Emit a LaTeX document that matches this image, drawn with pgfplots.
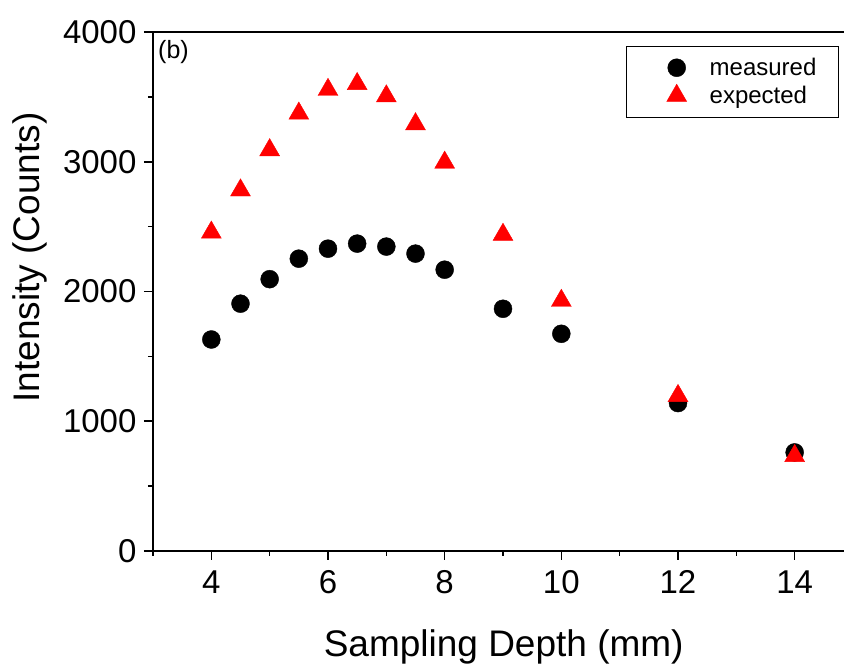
\documentclass[border=0pt]{standalone}
\usepackage{pgfplots}
\pgfplotsset{compat=1.18}
\usepackage{fontspec}
\setmainfont{Liberation Sans}
\pgfplotsset{myleg/.style={legend image code/.code={\path[draw=none,fill=none] (0pt,0pt) -- (30pt,0pt); \draw[##1] plot coordinates {(30pt,0pt)};}}}
\begin{document}
\begin{tikzpicture}
\begin{axis}[name=ax, scale only axis, width=700pt, height=519pt,
 xmin=3, xmax=15, ymin=0, ymax=4000,
 xtick={4,6,8,10,12,14}, minor xtick={3,5,7,9,11,13,15},
 ytick={0,1000,2000,3000,4000}, minor ytick={500,1500,2500,3500},
 tick pos=left, tick align=outside,
 major tick length=9pt, minor tick length=5pt,
 every tick/.style={black, line width=1.6pt},
 axis line style={line width=1.8pt},
 /pgf/number format/assume math mode=true,
 /pgf/number format/1000 sep={},
 tick label style={font=\fontsize{33}{40}\selectfont},
 yticklabel style={xshift=-4pt},
 xticklabel style={yshift=-7pt},
 xlabel={Sampling Depth (mm)}, ylabel={Intensity (Counts)},
 label style={font=\fontsize{37}{44}\selectfont},
 xlabel style={at={(axis description cs:0.501,-0.185)}, anchor=center},
 ylabel style={at={(axis description cs:-0.1757,0.5655)}, anchor=center},
 legend cell align=left,
 legend style={at={(axis description cs:0.98,0.9736)}, anchor=north east,
   draw=black, line width=1.2pt, inner xsep=20pt, inner ysep=10pt,
   font=\fontsize{24}{29}\selectfont, nodes={inner sep=2pt},
   row sep=5pt, column sep=21pt},
]
\addplot[only marks, mark=*, mark size=9pt, black, mark options={solid, line width=0.4pt}, myleg] coordinates {
(4,1630)(4.5,1906)(5,2095)(5.5,2253)(6,2330)(6.5,2369)(7,2346)(7.5,2292)(8,2168)(9,1867)(10,1674)(12,1140)(14,760)
};
\addlegendentry{measured}
\addplot[only marks, mark=triangle*, mark size=11.5pt, red, mark options={solid, fill=red, draw=red, line width=0.4pt}, myleg] coordinates {
(4,2455)(4.5,2780)(5,3090)(5.5,3372)(6,3555)(6.5,3600)(7,3505)(7.5,3290)(8,2994)(9,2438)(10,1929)(12,1196)(14,733)
};
\addlegendentry{expected}
\end{axis}
\node[anchor=north west, inner sep=0pt, font=\fontsize{25}{30}\selectfont] at ([shift={(5pt,-8pt)}]ax.north west) {(b)};
\pgfresetboundingbox
\path[use as bounding box] ([shift={(-153pt,-115pt)}]ax.south west) rectangle ([shift={(691pt,32pt)}]ax.north west);
\end{tikzpicture}
\end{document}
